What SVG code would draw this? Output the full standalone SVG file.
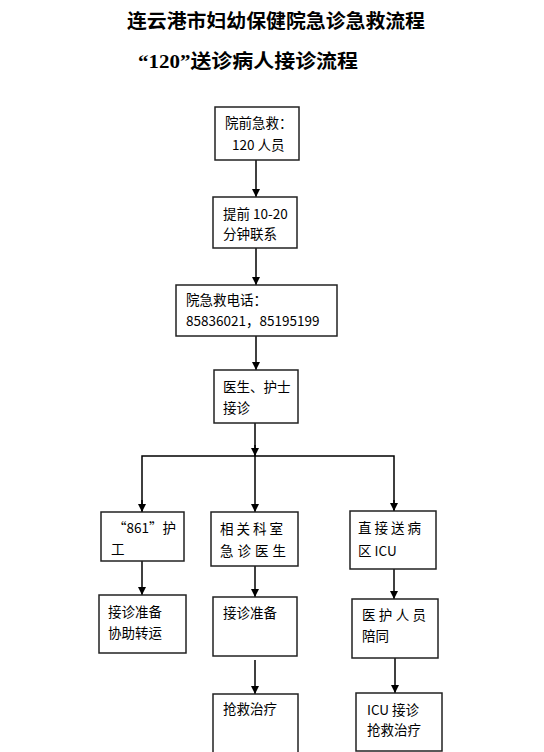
<svg xmlns="http://www.w3.org/2000/svg" width="544" height="752" viewBox="0 0 544 752">
<style>
.t{font-family:"Noto Sans CJK SC","Liberation Sans",sans-serif;font-size:13.5px;fill:#000}
.h{font-family:"Liberation Serif","Noto Sans CJK SC",serif;font-weight:bold;font-size:19px;fill:#000}
.b{fill:#fff;stroke:#222;stroke-width:1.5}
.c{fill:none;stroke:#000;stroke-width:1.5}
.sp{letter-spacing:3px}
</style>
<defs>
<marker id="ah" viewBox="0 0 10 10" refX="10" refY="5" markerWidth="8" markerHeight="8" markerUnits="userSpaceOnUse" orient="auto">
<path d="M0,0 L10,5 L0,10 z" fill="#000"/>
</marker>
</defs>
<rect width="544" height="752" fill="#fff"/>
<g id="titles">
<text class="h" x="276" y="28" text-anchor="middle" textLength="298" lengthAdjust="spacingAndGlyphs">连云港市妇幼保健院急诊急救流程</text>
<text class="h" x="138" y="68" textLength="220" lengthAdjust="spacingAndGlyphs">“120”送诊病人接诊流程</text>
</g>
<g id="connectors">
<line class="c" x1="256" y1="160" x2="256" y2="197" marker-end="url(#ah)"/>
<line class="c" x1="256" y1="248" x2="256" y2="285" marker-end="url(#ah)"/>
<line class="c" x1="256" y1="336" x2="256" y2="370" marker-end="url(#ah)"/>
<line class="c" x1="255" y1="423" x2="255" y2="456"/>
<polyline class="c" points="142,512 142,456 394,456 394,511"/>
<line class="c" x1="142" y1="500" x2="142" y2="512" marker-end="url(#ah)"/>
<line class="c" x1="394" y1="500" x2="394" y2="511" marker-end="url(#ah)"/>
<line class="c" x1="255" y1="456" x2="255" y2="512" marker-end="url(#ah)"/>
<line class="c" x1="255" y1="445" x2="255" y2="456" marker-end="url(#ah)"/>
<line class="c" x1="142" y1="561" x2="142" y2="595" marker-end="url(#ah)"/>
<line class="c" x1="255" y1="566" x2="255" y2="597" marker-end="url(#ah)"/>
<line class="c" x1="255" y1="660" x2="255" y2="694" marker-end="url(#ah)"/>
<line class="c" x1="394" y1="569" x2="394" y2="599" marker-end="url(#ah)"/>
<line class="c" x1="395" y1="658" x2="395" y2="693" marker-end="url(#ah)"/>
</g>
<g id="n1"><rect class="b" x="215" y="107" width="84" height="53"/>
<text class="t" x="225" y="128">院前急救：</text><text class="t" x="232" y="150">120 人员</text></g>
<g id="n2"><rect class="b" x="213" y="197" width="84" height="51"/>
<text class="t" x="223" y="219">提前 10-20</text><text class="t" x="223" y="239">分钟联系</text></g>
<g id="n3"><rect class="b" x="176" y="285" width="161" height="51"/>
<text class="t" x="186" y="305">院急救电话：</text><text class="t" x="186" y="326">85836021，85195199</text></g>
<g id="n4"><rect class="b" x="214" y="370" width="84" height="53"/>
<text class="t" x="223" y="392">医生、护士</text><text class="t" x="223" y="413">接诊</text></g>
<g id="n5"><rect class="b" x="101" y="512" width="83" height="49"/>
<text class="t" x="113" y="533">“861”护</text><text class="t" x="111" y="554">工</text></g>
<g id="n6"><rect class="b" x="211" y="512" width="87" height="54"/>
<text class="t sp" x="220" y="534">相关科室</text><text class="t" x="220" y="556" textLength="66">急诊医生</text></g>
<g id="n7"><rect class="b" x="350" y="511" width="86" height="58"/>
<text class="t sp" x="358" y="533">直接送病</text><text class="t" x="358" y="556">区 ICU</text></g>
<g id="n8"><rect class="b" x="99" y="595" width="87" height="58"/>
<text class="t" x="108" y="617">接诊准备</text><text class="t" x="108" y="638">协助转运</text></g>
<g id="n9"><rect class="b" x="213" y="597" width="84" height="59"/>
<text class="t" x="223" y="618">接诊准备</text></g>
<g id="n10"><rect class="b" x="213" y="694" width="85" height="70"/>
<text class="t" x="223" y="714">抢救治疗</text></g>
<g id="n11"><rect class="b" x="352" y="599" width="86" height="59"/>
<text class="t" x="362" y="620" textLength="64">医护人员</text><text class="t" x="362" y="641">陪同</text></g>
<g id="n12"><rect class="b" x="356" y="693" width="86" height="58"/>
<text class="t" x="367" y="715">ICU 接诊</text><text class="t" x="367" y="735">抢救治疗</text></g>
</svg>
